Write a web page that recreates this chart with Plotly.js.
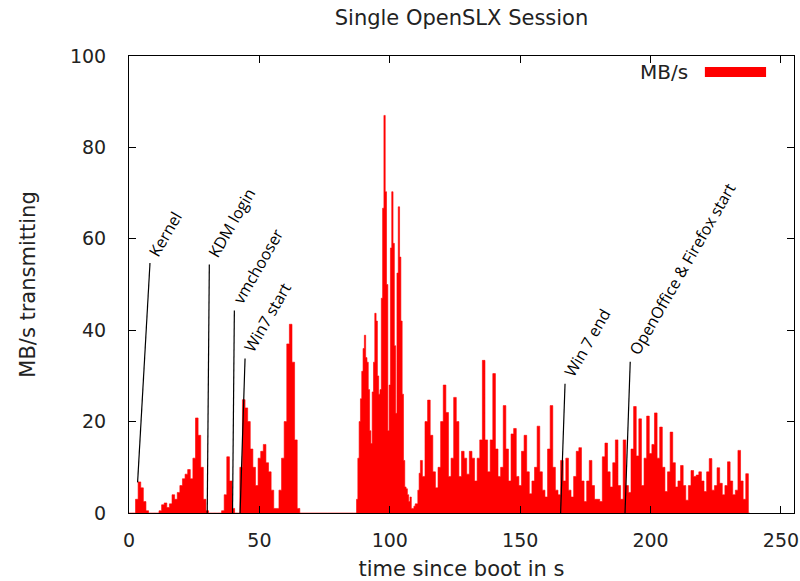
<!DOCTYPE html>
<html>
<head>
<meta charset="utf-8">
<script src="https://cdn.plot.ly/plotly-3.0.1.min.js"></script>
<style>html,body{margin:0;padding:0;background:#fff;}#chart{width:800px;height:581px;}</style>
</head>
<body>
<div id="chart"></div>
<script>
// ---- data (MB/s per time sample) ----
// early boot phase: 1 s samples starting at t = 0
const bootStart = 0, bootStep = 1;
const bootValues = [
  0,0,0,3,6.8,5.5,2.5,0.5,0,0,
  0,0,0.5,1.8,2.2,1.2,2,4,3,4.5,
  6,7.5,8.5,9.5,7.5,12,20.8,17,10,3,
  0.5,0,0,0,0,0,0.5,4,12.3,7,
  1,0,0,10,24.8,23,20,14,10,6,
  12,13.5,15,11,9,5,1,1,5,12,
  20,37,41.3,33,16,1,0
];
// Windows 7 boot burst: 0.5 s samples starting at t = 87
const burstStart = 87, burstStep = 0.5;
const burstValues = [
  0,3,12,20,25,31,36,38.9,34,33,
  27,18,15.2,26.5,33,43.7,42,30,26,27,
  47,66.7,87,70.3,50,18,28,58,70.3,59,
  36.6,21.8,52.5,67,56,42,26,11.5,5.7,5.3,
  4,2.5,3.5,1,1,1.5,2,2,5,8.7
];
// session phase: 1 s samples starting at t = 112
const sessionStart = 112, sessionStep = 1;
const sessionValues = [
  11.5,8,20,24.7,17,9,5.5,10,20,28,
  22,8,12,25.3,20,8,13.5,12,8.5,13.5,
  12,7,12,16,33.4,16,9,16,30.5,14,
  8,10,23.5,14,7,17.3,18.5,8,6,13.5,
  17,9,4.2,7,10,19,9,5,3.5,14,
  23.5,10,5,4,11.5,7,12,5,3.5,8,
  13.5,14.3,7,2.5,7,11.5,6,3,3,2.5,
  12.3,15.3,9,5.7,11,16,6,3,16,6,
  4.5,14,23.3,12.5,20.6,6,12,21.2,13,15,
  21.9,12,18.8,10,4.7,9,17.7,11,5.7,7,
  10.4,6,2.8,6,9.3,8,8.3,9,7,4.7,
  9,11.9,5,6,9.9,6.5,4,6,11.2,7,
  4,5,13.7,7,3,8.6,0
];
// event labels: text, pointer foot (t, MB/s), pointer head (t, MB/s)
const eventLabels = ["Kernel","KDM login","vmchooser","Win7 start","Win 7 end","OpenOffice &amp; Firefox start"];
const eventFootT = [3.3, 30.0, 39.7, 42.6, 165.5, 190.2];
const eventFootV = [6.7, 0, 0, 0, 0, 0];
const eventHeadT = [8.05, 30.8, 40.4, 44.5, 167.2, 192.2];
const eventHeadV = [54.7, 54.4, 44.3, 33.8, 28.3, 33.1];

// ---- build trace ----
const xs = [], ys = [];
function addSeg(start, step, vals){
  vals.forEach((v,i)=>{ xs.push(start + i*step); ys.push(v); });
}
addSeg(bootStart, bootStep, bootValues);
xs.push(86); ys.push(0);
addSeg(burstStart, burstStep, burstValues);
addSeg(sessionStart, sessionStep, sessionValues);

const trace = {
  x: xs, y: ys, type: 'scatter', mode: 'lines', name: 'MB/s',
  line: {shape: 'hvh', width: 0.6, color: '#ff0000'},
  fill: 'tozeroy', fillcolor: '#ff0000', showlegend: false, hoverinfo: 'x+y'
};

const shapes = [];
const annotations = [];
const lblFont = {family: 'Open Sans, sans-serif', size: 16, color: '#000'};
eventLabels.forEach((t,i)=>{
  shapes.push({type:'line', xref:'x', yref:'y', x0:eventFootT[i], y0:eventFootV[i], x1:eventHeadT[i], y1:eventHeadV[i], line:{color:'#000', width:1.2}});
  annotations.push({xref:'x', yref:'y', x:eventHeadT[i], y:eventHeadV[i], text:t, showarrow:false, textangle:-60, xanchor:'left', yanchor:'bottom', xshift:-9, yshift:0, font:lblFont});
});
// legend (key) in the top-right corner
shapes.push({type:'rect', xref:'paper', yref:'paper', x0:0.866, x1:0.958, y0:0.954, y1:0.976, fillcolor:'#ff0000', line:{width:0}});
annotations.push({xref:'paper', yref:'paper', x:0.8436, y:0.965, xanchor:'right', yanchor:'middle', text:'MB/s', showarrow:false, font:{family:'DejaVu Sans', size:20, color:'#222'}});

const axFont = {family: 'DejaVu Sans', size: 19, color: '#222'};
const layout = {
  width: 800, height: 581,
  margin: {l:129, r:6, t:56, b:68},
  paper_bgcolor: '#fff', plot_bgcolor: '#fff',
  title: {text: 'Single OpenSLX Session', font: {family:'DejaVu Sans', size:21, color:'#222'}, x: 0.5, xref:'paper', y: 1-18/581, yref:'container', yanchor:'middle'},
  xaxis: {range:[0,255], tick0:0, dtick:50, ticks:'inside', ticklen:7, tickcolor:'#000', mirror:'ticks', showline:true, linecolor:'#000', linewidth:1, showgrid:false, zeroline:false, tickfont:axFont, ticklabelstandoff:10,
    title:{text:'time since boot in s', font:{family:'DejaVu Sans', size:21, color:'#222'}, standoff:24}},
  yaxis: {range:[0,100], tick0:0, dtick:20, ticks:'inside', ticklen:7, tickcolor:'#000', mirror:'ticks', showline:true, linecolor:'#000', linewidth:1, showgrid:false, zeroline:false, tickfont:axFont, ticklabelstandoff:18,
    title:{text:'MB/s transmitting', font:{family:'DejaVu Sans', size:21, color:'#222'}, standoff:28}},
  shapes: shapes, annotations: annotations, showlegend:false
};
Plotly.newPlot('chart', [trace], layout, {displayModeBar:false, staticPlot:true});
</script>
</body>
</html>
